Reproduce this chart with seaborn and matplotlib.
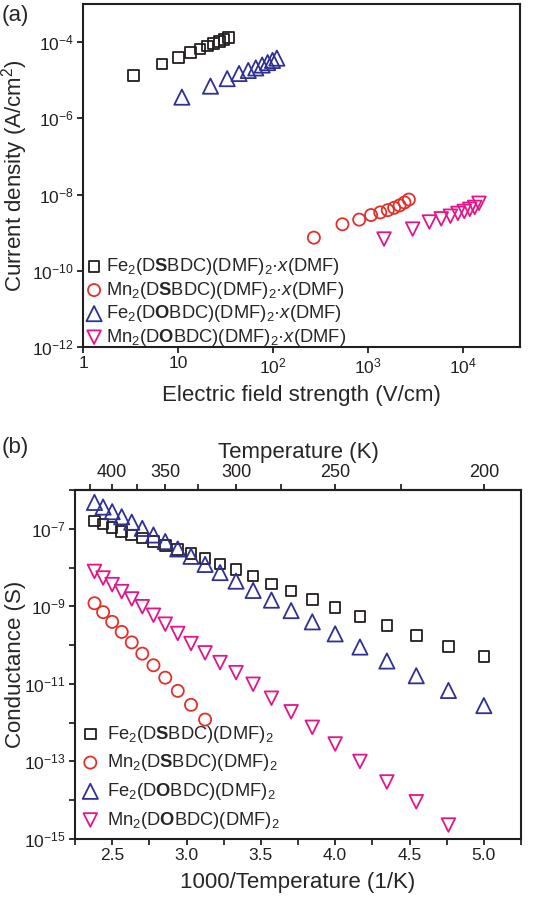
import numpy as np
import pandas as pd
import seaborn as sns
import matplotlib.pyplot as plt
from matplotlib.ticker import FixedLocator, NullLocator

# ---- panel (a): current density vs field ----
field_fe_s = [3.4, 6.8, 10.2, 13.6, 17.0, 20.4, 23.8, 27.2, 30.6, 34.0]
curr_fe_s = [1.35e-5, 2.65e-5, 4.0e-5, 5.3e-5, 6.6e-5, 7.9e-5, 9.2e-5, 1.05e-4, 1.17e-4, 1.3e-4]
field_mn_s = [270, 540, 810, 1080, 1350, 1620, 1890, 2160, 2430, 2700]
curr_mn_s = [7.4e-10, 1.66e-9, 2.2e-9, 2.9e-9, 3.4e-9, 3.9e-9, 4.5e-9, 5.2e-9, 6.2e-9, 7.4e-9]
field_fe_o = [11, 22, 33, 44, 55, 66, 77, 88, 99, 110]
curr_fe_o = [3.6e-6, 7.0e-6, 1.1e-5, 1.5e-5, 1.8e-5, 2.1e-5, 2.5e-5, 2.9e-5, 3.3e-5, 3.8e-5]
field_mn_o = [1480, 2960, 4440, 5920, 7400, 8880, 10360, 11840, 13320, 14800]
curr_mn_o = [6.8e-10, 1.24e-9, 1.9e-9, 2.3e-9, 2.7e-9, 3.2e-9, 3.6e-9, 4.1e-9, 4.6e-9, 5.9e-9]

# ---- panel (b): conductance vs 1000/T (log10 of conductance in S) ----
temps_all = [420, 410, 400, 390, 380, 370, 360, 350, 340, 330, 320, 310,
             300, 290, 280, 270, 260, 250, 240, 230, 220, 210, 200]
logG_fe_s = [-6.80, -6.88, -6.97, -7.07, -7.16, -7.24, -7.33, -7.43, -7.53, -7.64, -7.76, -7.91,
             -8.05, -8.22, -8.42, -8.61, -8.82, -9.03, -9.26, -9.49, -9.75, -10.03, -10.29]
temps_mn_s = [420, 410, 400, 390, 380, 370, 360, 350, 340, 330, 320]
logG_mn_s = [-8.92, -9.15, -9.40, -9.66, -9.93, -10.22, -10.52, -10.84, -11.18, -11.54, -11.92]
logG_fe_o = [-6.32, -6.44, -6.56, -6.69, -6.83, -6.99, -7.16, -7.33, -7.52, -7.71, -7.92, -8.13,
             -8.35, -8.59, -8.84, -9.11, -9.40, -9.71, -10.05, -10.41, -10.79, -11.17, -11.56]
temps_mn_o = temps_all[:-1]
logG_mn_o = [-8.10, -8.27, -8.44, -8.62, -8.81, -9.01, -9.23, -9.46, -9.70, -9.96, -10.20, -10.45,
             -10.71, -11.01, -11.37, -11.72, -12.12, -12.55, -13.00, -13.53, -14.04, -14.64]

top_major = [400, 350, 300, 250, 200]
top_minor = [425, 375, 325, 275, 225]

colors = ['#231f20', '#e2302b', '#2e3192', '#e0168a']
markers = ['s', 'o', '^', 'v']
sizes = [58, 76, 120, 96]
labels_a = [r'Fe$_2$(D$\mathbf{S}$BDC)(DMF)$_2$·$x$(DMF)',
            r'Mn$_2$(D$\mathbf{S}$BDC)(DMF)$_2$·$x$(DMF)',
            r'Fe$_2$(D$\mathbf{O}$BDC)(DMF)$_2$·$x$(DMF)',
            r'Mn$_2$(D$\mathbf{O}$BDC)(DMF)$_2$·$x$(DMF)']
labels_b = [r'Fe$_2$(D$\mathbf{S}$BDC)(DMF)$_2$',
            r'Mn$_2$(D$\mathbf{S}$BDC)(DMF)$_2$',
            r'Fe$_2$(D$\mathbf{O}$BDC)(DMF)$_2$',
            r'Mn$_2$(D$\mathbf{O}$BDC)(DMF)$_2$']

sns.set_style('ticks')
plt.rcParams['font.family'] = ['Liberation Sans', 'DejaVu Sans']
plt.rcParams['mathtext.fontset'] = 'custom'
plt.rcParams['mathtext.rm'] = 'Liberation Sans'
plt.rcParams['mathtext.it'] = 'Liberation Sans:italic'
plt.rcParams['mathtext.bf'] = 'Liberation Sans:bold'
plt.rcParams['axes.linewidth'] = 1.5
plt.rcParams['axes.edgecolor'] = '#231f20'
for k in ['xtick.major', 'ytick.major', 'xtick.minor', 'ytick.minor']:
    plt.rcParams[k + '.width'] = 1.3
    plt.rcParams[k + '.size'] = 4.3
    plt.rcParams[k + '.pad'] = 2.5
plt.rcParams['xtick.direction'] = 'out'
plt.rcParams['ytick.direction'] = 'out'

W, H = 556, 902
fig = plt.figure(figsize=(W / 100, H / 100), dpi=100)
ax1 = fig.add_axes([83 / W, 1 - 347 / H, (520 - 83) / W, (347 - 4) / H])
ax2 = fig.add_axes([75 / W, 1 - 839 / H, (521 - 75) / W, (839 - 490) / H])

# ---- panel (a) ----
set_a = [(field_fe_s, curr_fe_s), (field_mn_s, curr_mn_s), (field_fe_o, curr_fe_o), (field_mn_o, curr_mn_o)]
for (xs, ys), c, m, s, lab in zip(set_a, colors, markers, sizes, labels_a):
    df = pd.DataFrame({'E': xs, 'J': ys})
    sns.scatterplot(data=df, x='E', y='J', ax=ax1, marker=m, s=s, color=c,
                    facecolor='none', edgecolor=c, linewidth=1.3, label=lab)
ax1.set_xscale('log')
ax1.set_yscale('log')
ax1.set_xlim(1, 4e4)
ax1.set_ylim(1e-12, 1e-3)
ax1.xaxis.set_major_locator(FixedLocator([1, 10, 100, 1000, 10000]))
ax1.set_xticklabels(['1', '10', r'$10^2$', r'$10^3$', r'$10^4$'])
ax1.yaxis.set_major_locator(FixedLocator([1e-12, 1e-10, 1e-8, 1e-6, 1e-4]))
ax1.set_yticklabels([r'$10^{-12}$', r'$10^{-10}$', r'$10^{-8}$', r'$10^{-6}$', r'$10^{-4}$'])
ax1.xaxis.set_minor_locator(NullLocator())
ax1.yaxis.set_minor_locator(NullLocator())
ax1.tick_params(labelsize=12.5, colors='#231f20')
ax1.set_xlabel('Electric field strength (V/cm)', fontsize=16, labelpad=6)
ax1.set_ylabel(r'Current density (A/cm$^2$)', fontsize=16)
ax1.yaxis.set_label_coords((30 - 83) / (520 - 83), 0.5)
ax1.legend(loc='lower left', bbox_to_anchor=(-0.025, -0.035), frameon=False, fontsize=13.2,
           handletextpad=0.05, labelspacing=0.14, borderaxespad=0.2, handlelength=1.2)
fig.text(0.003, 1 - 15 / H, '(a)', fontsize=16, va='center', ha='left')

# ---- panel (b) ----
set_b = [(temps_all, logG_fe_s), (temps_mn_s, logG_mn_s), (temps_all, logG_fe_o), (temps_mn_o, logG_mn_o)]
for (ts, lg), c, m, s, lab in zip(set_b, colors, markers, sizes, labels_b):
    df = pd.DataFrame({'invT': 1000 / np.array(ts, dtype=float), 'G': 10.0 ** np.array(lg)})
    sns.scatterplot(data=df, x='invT', y='G', ax=ax2, marker=m, s=s, color=c,
                    facecolor='none', edgecolor=c, linewidth=1.3, label=lab)
ax2.set_yscale('log')
ax2.set_xlim(2.25, 5.25)
ax2.set_ylim(1e-15, 1e-6)
ax2.xaxis.set_major_locator(FixedLocator([2.5, 3.0, 3.5, 4.0, 4.5, 5.0]))
ax2.set_xticklabels(['2.5', '3.0', '3.5', '4.0', '4.5', '5.0'])
ax2.xaxis.set_minor_locator(FixedLocator([2.25, 2.75, 3.25, 3.75, 4.25, 4.75, 5.25]))
ax2.yaxis.set_major_locator(FixedLocator([1e-15, 1e-13, 1e-11, 1e-9, 1e-7]))
ax2.set_yticklabels([r'$10^{-15}$', r'$10^{-13}$', r'$10^{-11}$', r'$10^{-9}$', r'$10^{-7}$'])
ax2.yaxis.set_minor_locator(FixedLocator([1e-14, 1e-12, 1e-10, 1e-8, 1e-6]))
ax2.yaxis.set_minor_formatter(plt.NullFormatter())
ax2.tick_params(labelsize=12.5, colors='#231f20')
ax2.set_xlabel('1000/Temperature (1/K)', fontsize=16, labelpad=6)
ax2.set_ylabel('Conductance (S)', fontsize=16)
ax2.yaxis.set_label_coords((26 - 75) / (521 - 75), 0.5)
ax2.legend(loc='lower left', bbox_to_anchor=(-0.015, -0.008), frameon=False, fontsize=13.2,
           handletextpad=0.3, labelspacing=0.42, borderaxespad=0.2, handlelength=1.2)

sec = ax2.secondary_xaxis('top')
sec.set_xticks(1000 / np.array(top_major, dtype=float), labels=[str(t) for t in top_major])
sec.xaxis.set_minor_locator(FixedLocator(1000 / np.array(top_minor, dtype=float)))
sec.tick_params(labelsize=13, colors='#231f20')
sec.set_xlabel('Temperature (K)', fontsize=16, labelpad=4)
fig.text(0.003, 1 - 448 / H, '(b)', fontsize=16, va='center', ha='left')

fig.savefig('out.png', dpi=100)
